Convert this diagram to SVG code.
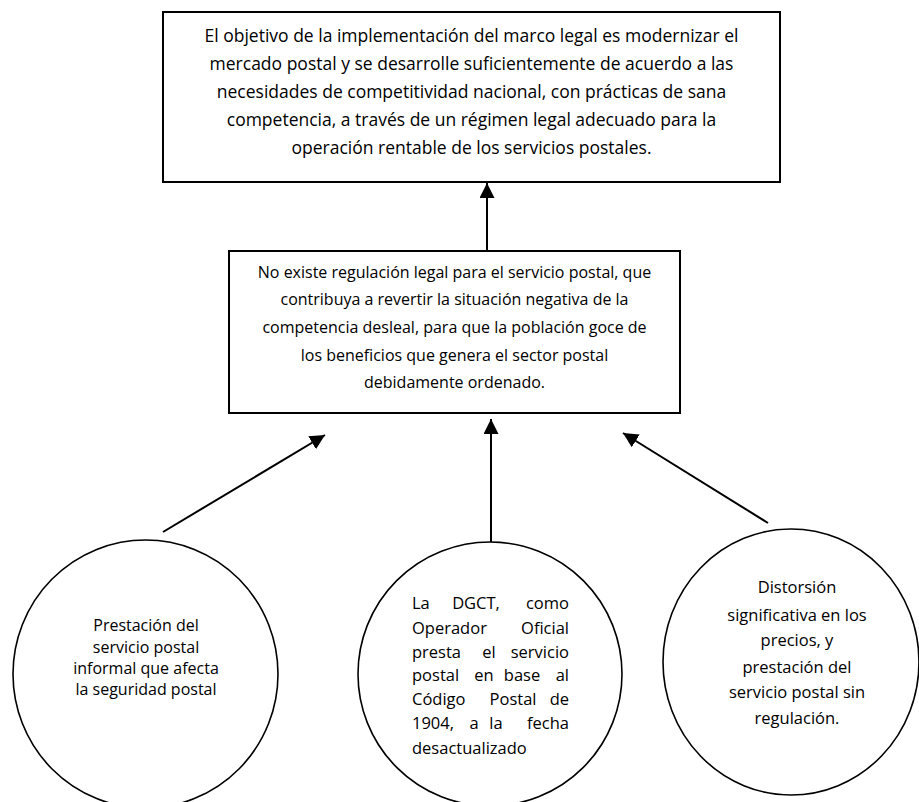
<svg xmlns="http://www.w3.org/2000/svg" width="919" height="802" viewBox="0 0 919 802">
<style>
  .box { fill: #ffffff; stroke: #000000; stroke-width: 2; }
  .circ { fill: #ffffff; stroke: #000000; stroke-width: 1.6; }
  .conn { stroke: #000000; stroke-width: 2; fill: none; }
  text { font-family: "Open Sans", "Liberation Sans", sans-serif; fill: #000000; }
  .t1 { font-size: 17.5px; text-anchor: middle; }
  .t2 { font-size: 16px; text-anchor: middle; }
  .cl { font-size: 16px; text-anchor: middle; }
  .cr { font-size: 16.5px; text-anchor: middle; }
  .j { font-size: 16.5px; }
</style>
<defs>
  <marker id="ah" markerUnits="userSpaceOnUse" markerWidth="16" markerHeight="16" refX="15" refY="7.5" orient="auto">
    <path d="M0,0 L15,7.5 L0,15 z" fill="#000000"/>
  </marker>
</defs>
<rect width="919" height="802" fill="#ffffff"/>

<g id="node-objetivo">
  <rect class="box" x="163" y="12" width="617" height="170"/>
  <text class="t1" x="471.5" y="42">El objetivo de la implementación del marco legal es modernizar el</text>
  <text class="t1" x="471.5" y="70">mercado postal y se desarrolle suficientemente de acuerdo a las</text>
  <text class="t1" x="471.5" y="98">necesidades de competitividad nacional, con prácticas de sana</text>
  <text class="t1" x="471.5" y="126">competencia, a través de un régimen legal adecuado para la</text>
  <text class="t1" x="471.5" y="154">operación rentable de los servicios postales.</text>
</g>

<g id="node-problema">
  <rect class="box" x="229" y="251" width="451" height="162"/>
  <text class="t2" x="454.5" y="278">No existe regulación legal para el servicio postal, que</text>
  <text class="t2" x="454.5" y="305">contribuya a revertir la situación negativa de la</text>
  <text class="t2" x="454.5" y="333">competencia desleal, para que la población goce de</text>
  <text class="t2" x="454.5" y="361">los beneficios que genera el sector postal</text>
  <text class="t2" x="454.5" y="388">debidamente ordenado.</text>
</g>

<g id="node-causa1">
  <ellipse class="circ" cx="145.5" cy="674" rx="132.5" ry="134"/>
  <text class="cl" x="146" y="631">Prestación del</text>
  <text class="cl" x="146" y="653">servicio postal</text>
  <text class="cl" x="146" y="674">informal que afecta</text>
  <text class="cl" x="146" y="695">la seguridad postal</text>
</g>

<g id="node-causa2">
  <ellipse class="circ" cx="490" cy="674" rx="132" ry="132"/>
  <text class="j" y="609"><tspan x="412">La</tspan><tspan x="476" text-anchor="middle">DGCT,</tspan><tspan x="569" text-anchor="end">como</tspan></text>
  <text class="j" y="634"><tspan x="412">Operador</tspan><tspan x="569" text-anchor="end">Oficial</tspan></text>
  <text class="j" y="658"><tspan x="412">presta</tspan><tspan x="489" text-anchor="middle">el</tspan><tspan x="569" text-anchor="end">servicio</tspan></text>
  <text class="j" y="681"><tspan x="412">postal</tspan><tspan x="484" text-anchor="middle">en</tspan><tspan x="522" text-anchor="middle">base</tspan><tspan x="569" text-anchor="end">al</tspan></text>
  <text class="j" y="705"><tspan x="412">Código</tspan><tspan x="513" text-anchor="middle">Postal</tspan><tspan x="569" text-anchor="end">de</tspan></text>
  <text class="j" y="729"><tspan x="412">1904,</tspan><tspan x="474" text-anchor="middle">a</tspan><tspan x="496" text-anchor="middle">la</tspan><tspan x="569" text-anchor="end">fecha</tspan></text>
  <text class="j" y="754"><tspan x="412">desactualizado</tspan></text>
</g>

<g id="node-causa3">
  <ellipse class="circ" cx="791" cy="662" rx="128" ry="133"/>
  <text class="cr" x="797" y="593">Distorsión</text>
  <text class="cr" x="797" y="621">significativa en los</text>
  <text class="cr" x="797" y="646">precios, y</text>
  <text class="cr" x="797" y="673">prestación del</text>
  <text class="cr" x="797" y="698">servicio postal sin</text>
  <text class="cr" x="797" y="724">regulación.</text>
</g>

<g id="connectors">
  <line class="conn" x1="487" y1="251" x2="487" y2="183" marker-end="url(#ah)"/>
  <line class="conn" x1="163" y1="532" x2="325" y2="435" marker-end="url(#ah)"/>
  <line class="conn" x1="491" y1="542" x2="491" y2="419" marker-end="url(#ah)"/>
  <line class="conn" x1="768" y1="523" x2="623" y2="433" marker-end="url(#ah)"/>
</g>
</svg>
